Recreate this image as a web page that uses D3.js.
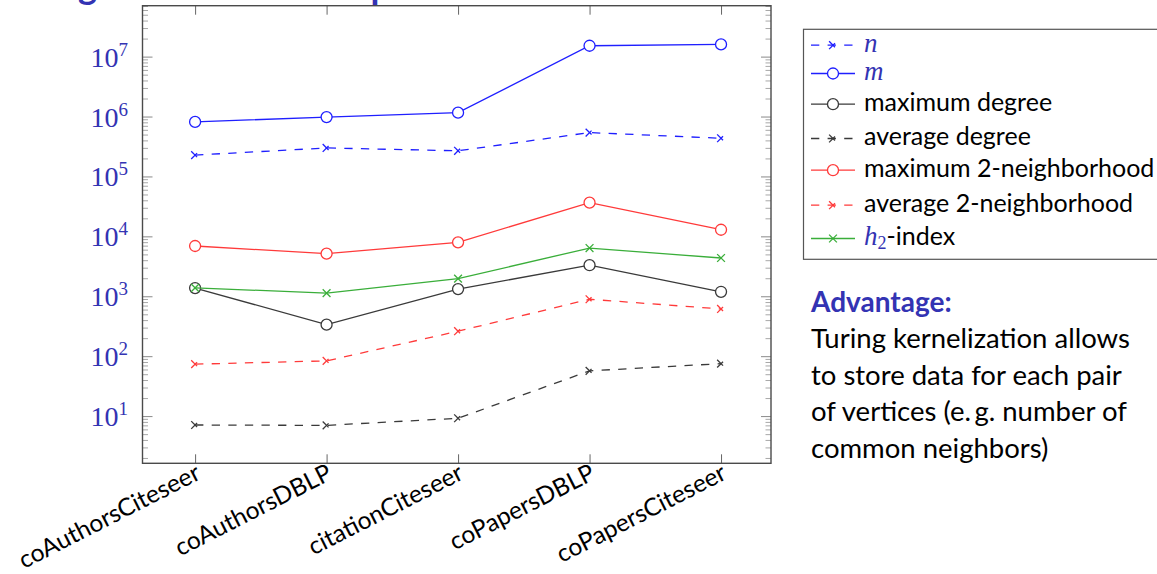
<!DOCTYPE html>
<html>
<head>
<meta charset="utf-8">
<script src="https://cdn.jsdelivr.net/npm/d3@7"></script>
<style>
  body { margin: 0; background: #fff; }
  svg { display: block; }
</style>
</head>
<body>
<svg id="chart" width="1157" height="574"></svg>
<script>
// Graph instances on the x axis
const categories = ["coAuthorsCiteseer", "coAuthorsDBLP", "citationCiteseer", "coPapersDBLP", "coPapersCiteseer"];

// Measured quantities per graph (log scale)
const nValues        = [2.27e5, 2.99e5, 2.68e5, 5.40e5, 4.34e5];
const mValues        = [8.14e5, 9.78e5, 1.16e6, 1.52e7, 1.60e7];
const maxDegree      = [1372, 336, 1318, 3299, 1188];
const avgDegree      = [7.1, 7.0, 9.2, 56.9, 75.0];
const max2Nbhd       = [6900, 5150, 7950, 36500, 12900];
const avg2Nbhd       = [73.6, 83.5, 261, 891, 614];
const h2Index        = [1380, 1130, 1970, 6380, 4350];

// Major tick exponents on the y axis
const yTickExponents = [1, 2, 3, 4, 5, 6, 7];

const advantageTitle = "Advantage:";
const advantageLines = [
  "Turing kernelization allows",
  "to store data for each pair",
  "of vertices (e.\u2009g. number of",
  "common neighbors)"
];
const slideTitle = "Turing kernelization: Experiments";

const BLUE = "#1f1fff", RED = "#ff3a3a", BLACK = "#3a3a3a", GREEN = "#3aae3a";
const STRUCT = "#3333b3";

const series = [
  { key: "n",     values: nValues,   color: BLUE,  dashed: true,  mark: "x",  math: "n" },
  { key: "m",     values: mValues,   color: BLUE,  dashed: false, mark: "o",  math: "m" },
  { key: "maxd",  values: maxDegree, color: BLACK, dashed: false, mark: "o",  text: "maximum degree" },
  { key: "avgd",  values: avgDegree, color: BLACK, dashed: true,  mark: "x",  text: "average degree" },
  { key: "max2",  values: max2Nbhd,  color: RED,   dashed: false, mark: "o",  text: "maximum 2-neighborhood" },
  { key: "avg2",  values: avg2Nbhd,  color: RED,   dashed: true,  mark: "x",  text: "average 2-neighborhood" },
  { key: "h2",    values: h2Index,   color: GREEN, dashed: false, mark: "xs", h2: true }
];

const svg = d3.select("#chart");
const L = 142.5, R = 771, T = 5.7, B = 463.3;
const DASH = "8.3,8.3";
const LW = 1.3;
const markR = 5.5;
const xs = markR * 0.7071;
const SANS = "Lato, 'Open Sans', sans-serif";
const SERIF = "'Liberation Serif', 'DejaVu Serif', serif";

const x = d3.scaleLinear().domain([-0.4, categories.length - 1 + 0.38]).range([L, R]);
const y = d3.scaleLog().domain([Math.pow(10, 0.212), Math.pow(10, 7.85)]).range([B, T]);

// ---- slide title (mostly above the visible area) ----
const titleText = svg.append("text")
  .attr("y", -1)
  .attr("font-family", SANS)
  .attr("font-weight", "bold")
  .attr("font-size", 36)
  .attr("fill", STRUCT)
  .text(slideTitle);
{
  const gx = titleText.node().getStartPositionOfChar(5).x;
  titleText.attr("x", 78 - gx);
}

// ---- y ticks (log, with minor ticks) ----
const yMin = y.domain()[0], yMax = y.domain()[1];
const majors = yTickExponents.map(e => Math.pow(10, e));
const minors = [];
for (let e = 0; e <= 8; e++) {
  for (let k = 2; k <= 9; k++) {
    const v = k * Math.pow(10, e);
    if (v >= yMin && v <= yMax) minors.push(v);
  }
}

const gTicks = svg.append("g");
function tickAxis(axisGen, tx, size, values, color) {
  const g = gTicks.append("g")
    .attr("transform", `translate(${tx},0)`)
    .call(axisGen(y).tickValues(values).tickSize(size).tickFormat(() => ""));
  g.select(".domain").remove();
  g.selectAll(".tick line").attr("stroke", color).attr("stroke-width", 1);
}
tickAxis(d3.axisLeft, L, -5.5, minors, "#a8a8a8");
tickAxis(d3.axisRight, R, -5.5, minors, "#a8a8a8");
tickAxis(d3.axisLeft, L, -10, majors, "#8a8a8a");
tickAxis(d3.axisRight, R, -10, majors, "#8a8a8a");

// x ticks top and bottom
function xTickAxis(axisGen, ty) {
  const g = svg.append("g")
    .attr("transform", `translate(0,${ty})`)
    .call(axisGen(x).tickValues(d3.range(categories.length)).tickSize(-9).tickFormat(() => ""));
  g.select(".domain").remove();
  g.selectAll(".tick line").attr("stroke", "#666").attr("stroke-width", 1);
}
xTickAxis(d3.axisBottom, B);
xTickAxis(d3.axisTop, T);

// y tick labels 10^k
const yLabels = svg.append("g")
  .attr("font-family", SERIF)
  .attr("fill", STRUCT);
yTickExponents.forEach(e => {
  const t = yLabels.append("text")
    .attr("x", 128)
    .attr("y", y(Math.pow(10, e)) + 10)
    .attr("text-anchor", "end");
  t.append("tspan").attr("font-size", 28).text("10");
  t.append("tspan").attr("font-size", 19).attr("dy", -11).text(String(e));
});

// x tick labels, rotated
svg.append("g")
  .attr("font-family", SANS)
  .attr("font-size", 24.5)
  .attr("fill", "#000")
  .selectAll("text")
  .data(categories)
  .join("text")
  .attr("text-anchor", "end")
  .attr("transform", (d, i) => `translate(${x(i) + 7},${B + 15}) rotate(-27)`)
  .text(d => d);

// ---- plot lines and marks ----
const plot = svg.append("g");
const line = d3.line().x((d, i) => x(i)).y(d => y(d));

function drawMark(g, kind, cx, cy, color, dashed) {
  if (kind === "o") {
    g.append("circle").attr("cx", cx).attr("cy", cy).attr("r", markR)
      .attr("fill", "#fff").attr("stroke", color).attr("stroke-width", LW);
  } else {
    // two strokes of an x: lower-left to upper-right, then upper-left to lower-right
    const segs = [[cx - xs, cy + xs, cx + xs, cy - xs], [cx - xs, cy - xs, cx + xs, cy + xs]];
    segs.forEach(s => {
      g.append("line")
        .attr("x1", s[0]).attr("y1", s[1]).attr("x2", s[2]).attr("y2", s[3])
        .attr("stroke", color).attr("stroke-width", LW)
        .attr("stroke-dasharray", dashed ? DASH : null);
    });
  }
}

series.forEach(s => {
  const g = plot.append("g");
  g.append("path")
    .datum(s.values)
    .attr("d", line)
    .attr("fill", "none")
    .attr("stroke", s.color)
    .attr("stroke-width", LW)
    .attr("stroke-dasharray", s.dashed ? DASH : null);
  s.values.forEach((v, i) => drawMark(g, s.mark, x(i), y(v), s.color, s.dashed));
});

// frame
svg.append("rect")
  .attr("x", L).attr("y", T).attr("width", R - L).attr("height", B - T)
  .attr("fill", "none").attr("stroke", "#4a4a4a").attr("stroke-width", 1.4);

// ---- legend ----
const legend = svg.append("g");
legend.append("rect")
  .attr("x", 803.5).attr("y", 29.3).attr("width", 370).attr("height", 230)
  .attr("fill", "#fff").attr("stroke", "#555").attr("stroke-width", 1.2);

const rowBaselines = [51.7, 80, 110.7, 145, 176.7, 211.7, 245];
series.forEach((s, i) => {
  const by = rowBaselines[i];
  const my = by - 6.5;
  legend.append("line")
    .attr("x1", 811).attr("x2", 855).attr("y1", my).attr("y2", my)
    .attr("stroke", s.color).attr("stroke-width", LW)
    .attr("stroke-dasharray", s.dashed ? DASH : null);
  drawMark(legend, s.mark, 833, my, s.color, s.dashed);
  const t = legend.append("text").attr("x", 864).attr("y", by).attr("font-size", 25);
  if (s.math) {
    t.attr("font-family", SERIF).attr("font-style", "italic")
      .attr("font-size", 27).attr("fill", STRUCT).text(s.math);
  } else if (s.h2) {
    t.attr("font-family", SANS).attr("fill", "#000");
    t.append("tspan").attr("font-family", SERIF).attr("font-style", "italic")
      .attr("font-size", 27).attr("fill", STRUCT).text("h");
    t.append("tspan").attr("font-family", SERIF).attr("font-size", 18)
      .attr("fill", STRUCT).attr("dy", 4).text("2");
    t.append("tspan").attr("dy", -4).text("-index");
  } else {
    t.attr("font-family", SANS).attr("fill", "#000").text(s.text);
  }
});

// ---- side note ----
svg.append("text")
  .attr("x", 811).attr("y", 311.7)
  .attr("font-family", SANS).attr("font-weight", "bold")
  .attr("font-size", 28).attr("fill", STRUCT)
  .text(advantageTitle);
svg.append("g")
  .attr("font-family", SANS).attr("font-size", 27.5).attr("fill", "#000")
  .selectAll("text").data(advantageLines).join("text")
  .attr("x", 811).attr("y", (d, i) => 348.3 + i * 36.4)
  .text(d => d);
</script>
</body>
</html>
